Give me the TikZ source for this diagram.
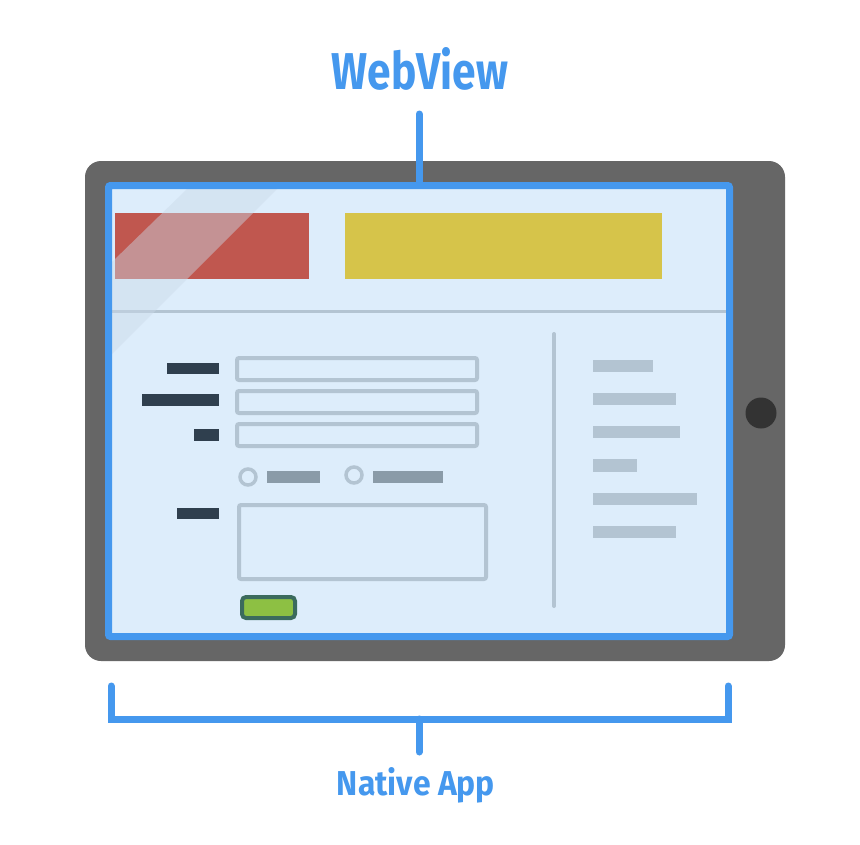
\documentclass[tikz,border=0pt]{standalone}
\usepackage{fontspec}
\setmainfont{Fira Sans}
\usepackage{graphicx}
\definecolor{accent}{HTML}{4598EE}
\definecolor{casing}{HTML}{666666}
\definecolor{homekey}{HTML}{333333}
\definecolor{screenbg}{HTML}{DDEDFB}
\definecolor{banner}{HTML}{C0574F}
\definecolor{headline}{HTML}{D6C44A}
\definecolor{rulecol}{HTML}{B3C4D2}
\definecolor{labelcol}{HTML}{2F3F4E}
\definecolor{optcol}{HTML}{8A9BA8}
\definecolor{okfill}{HTML}{8DC043}
\definecolor{okedge}{HTML}{3B6B5D}
\definecolor{sheen}{HTML}{CBDAE9}
\tikzset{
  bluestroke/.style={draw=accent, line width=7pt, line cap=round},
  fieldbox/.style={draw=rulecol, line width=4pt, rounded corners=2pt},
  formlabel/.style={fill=labelcol},
  optlabel/.style={fill=optcol},
  sidebar/.style={fill=rulecol},
  radio/.style={draw=rulecol, line width=3.5pt},
}
\begin{document}
\begin{tikzpicture}[x=1pt,y=-1pt]
\useasboundingbox (0,0) rectangle (860,844);
\fill[white] (0,0) rectangle (860,844);

% tablet casing and home key
\fill[casing, rounded corners=16pt] (85,161) rectangle (785,661);
\fill[homekey] (761,413) circle (15.5pt);

% screen area
\fill[screenbg] (108.5,185.5) rectangle (729.5,636.5);

% page header blocks and divider
\fill[banner] (115,213) rectangle (309,279);
\fill[headline] (345,213) rectangle (662,279);
\draw[rulecol, line width=3pt] (111,311) -- (726,311);

% glass reflection
\fill[sheen, opacity=.45] (187,189) -- (277,189) -- (112,354) -- (112,262) -- cycle;

% form labels
\fill[formlabel] (167,363) rectangle (219,374);
\fill[formlabel] (142,394) rectangle (219,406);
\fill[formlabel] (194,429) rectangle (219,441);
\fill[formlabel] (177,508) rectangle (219,519);

% input fields
\draw[fieldbox] (237,358) rectangle (477,380);
\draw[fieldbox] (237,391) rectangle (477,413);
\draw[fieldbox] (237,424) rectangle (477,446);
\draw[fieldbox] (239,505) rectangle (486,579);

% radio options
\draw[radio] (248,477) circle (8pt);
\fill[optlabel] (267,471) rectangle (320,483);
\draw[radio] (354,475) circle (8pt);
\fill[optlabel] (373,471) rectangle (443,483);

% submit button
\draw[draw=okedge, fill=okfill, line width=4pt, rounded corners=4pt] (242,597) rectangle (295,618);

% sidebar
\draw[rulecol, line width=4pt, line cap=round] (554,334) -- (554,606);
\fill[sidebar] (593,360) rectangle (653,372);
\fill[sidebar] (593,393) rectangle (676,405);
\fill[sidebar] (593,426) rectangle (680,438);
\fill[sidebar] (593,459) rectangle (637,472);
\fill[sidebar] (593,493) rectangle (697,505);
\fill[sidebar] (593,526) rectangle (676,538);

% webview frame
\draw[draw=accent, line width=7pt, rounded corners=2pt] (108.5,185.5) rectangle (729.5,636.5);

% WebView label and pointer
\node[inner sep=0pt, text=accent] (webview) at (420,69) {\resizebox{176pt}{42pt}{\bfseries WebView}};
\coordinate (stemtop) at (419,114);
\coordinate (screentop) at (419,184);
\draw[bluestroke] (stemtop) -- (screentop);

% native app bracket
\coordinate (bl) at (111,686);
\coordinate (br) at (728,686);
\coordinate (bmid) at (419,719);
\coordinate (bend) at (419,752);
\draw[bluestroke, line join=miter] (bl) -- (bl |- bmid) -- (br |- bmid) -- (br);
\draw[bluestroke] (bmid) -- (bend);
\node[inner sep=0pt, anchor=base, text=accent] (nativeapp) at (416,795) {\resizebox{158pt}{28pt}{\bfseries Native App}};
\end{tikzpicture}
\end{document}
